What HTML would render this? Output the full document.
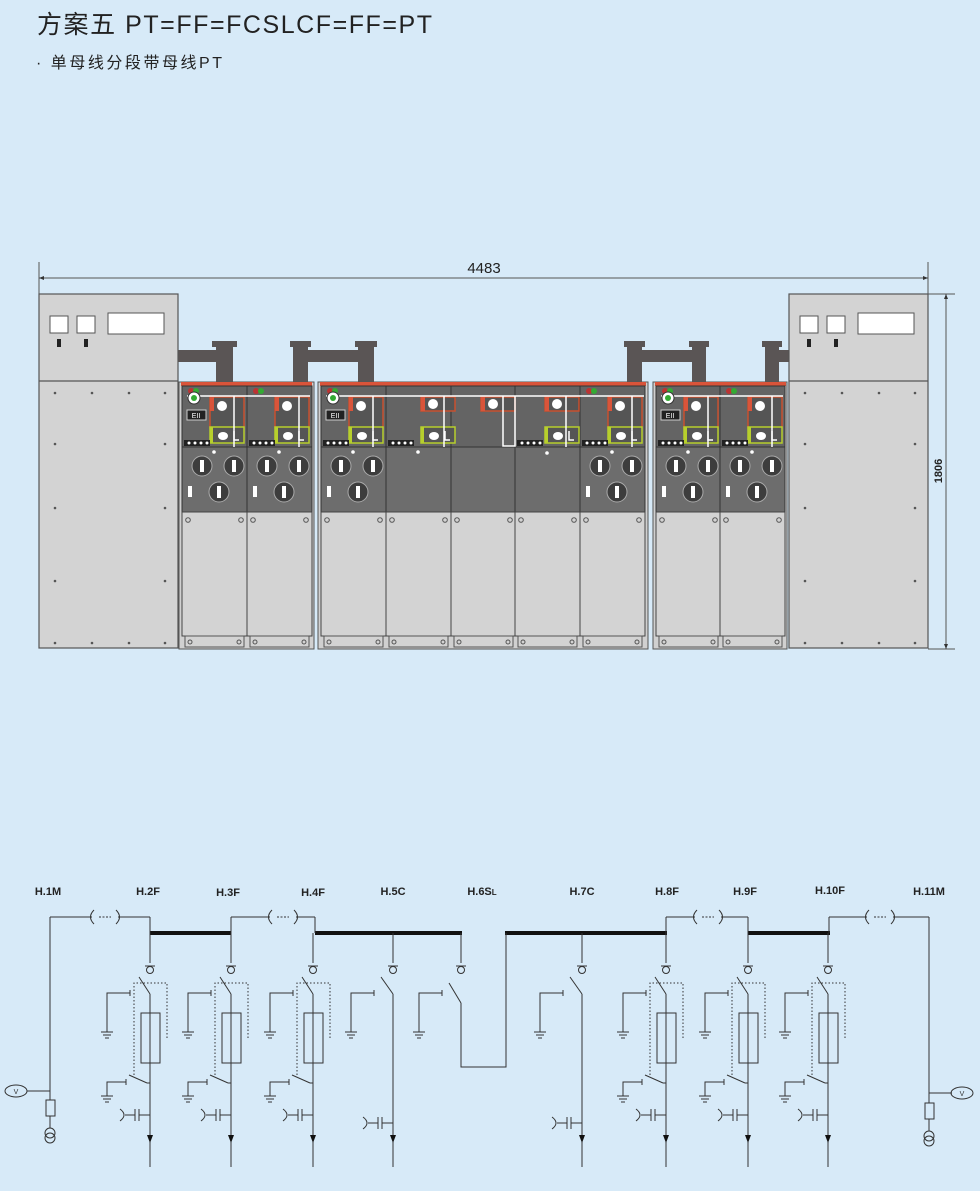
<!DOCTYPE html>
<html><head><meta charset="utf-8"><style>
html,body{margin:0;padding:0;background:#d7eaf8;}
svg{display:block;}
</style></head><body>
<svg width="980" height="1191" viewBox="0 0 980 1191" xmlns="http://www.w3.org/2000/svg" font-family="'Liberation Sans','Noto Sans CJK SC',sans-serif">
<rect width="980" height="1191" fill="#d7eaf8"/>
<text x="37" y="33" font-size="25" fill="#222" textLength="395" lengthAdjust="spacing">方案五 PT=FF=FCSLCF=FF=PT</text>
<text x="36" y="68" font-size="16" fill="#222" textLength="186" lengthAdjust="spacing">· 单母线分段带母线PT</text>

<defs>
  <g id="knob"><circle r="10" fill="#3d3d3d" stroke="#aaa" stroke-width="1"/><rect x="-2" y="-6" width="4" height="12" fill="#fff"/></g>
  <g id="redbox">
    <rect x="0" y="0" width="34" height="31" fill="#555" stroke="#c8502e" stroke-width="1.5"/>
    <rect x="0" y="0" width="4" height="14" fill="#d9543a"/>
    <circle cx="12" cy="9" r="5" fill="#fff"/>
  </g>
  <g id="smallred">
    <rect x="0" y="0" width="34" height="14" fill="#555" stroke="#c8502e" stroke-width="1.5"/>
    <rect x="0" y="0" width="4" height="14" fill="#d9543a"/>
    <circle cx="12" cy="7" r="5" fill="#fff"/>
  </g>
  <g id="ybox">
    <rect x="0" y="0" width="34" height="16" fill="#555" stroke="#b7cf2c" stroke-width="1.5"/>
    <rect x="0" y="0" width="3" height="16" fill="#b7cf2c"/>
    <ellipse cx="13" cy="9" rx="5" ry="4" fill="#fff"/>
    <path d="M24 4 v9 h5" stroke="#fff" fill="none" stroke-width="1.5"/>
  </g>
  <g id="dots"><rect x="0" y="0" width="26" height="6" fill="#222"/><circle cx="5" cy="3" r="1.5" fill="#fff"/><circle cx="11" cy="3" r="1.5" fill="#fff"/><circle cx="17" cy="3" r="1.5" fill="#fff"/><circle cx="23" cy="3" r="1.5" fill="#fff"/></g>
  <g id="panelbase">
    <rect x="0" y="386" width="65" height="61" fill="#646464" stroke="#333" stroke-width="1"/>
    <rect x="0" y="447" width="65" height="65" fill="#6d6d6d" stroke="#333" stroke-width="1"/>
    <rect x="0" y="512" width="65" height="124" fill="#d3d3d3" stroke="#444" stroke-width="1"/>
    <circle cx="6" cy="520" r="2.3" fill="none" stroke="#555"/>
    <circle cx="59" cy="520" r="2.3" fill="none" stroke="#555"/>
    <rect x="3" y="636" width="59" height="11" fill="#d3d3d3" stroke="#555" stroke-width="1"/>
    <circle cx="8" cy="642" r="2" fill="none" stroke="#555"/>
    <circle cx="57" cy="642" r="2" fill="none" stroke="#555"/>
  </g>
  <g id="fpanel">
    <use href="#panelbase"/>
    <use href="#redbox" x="28" y="397"/>
    <use href="#ybox" x="28" y="427"/>
    <line x1="52" y1="396" x2="52" y2="447" stroke="#fff" stroke-width="1.5"/>
    <use href="#dots" x="2" y="440"/>
    <circle cx="32" cy="452" r="1.8" fill="#fff"/>
    <use href="#knob" x="20" y="466"/>
    <use href="#knob" x="52" y="466"/>
    <use href="#knob" x="37" y="492"/>
    <rect x="6" y="486" width="4" height="11" fill="#fff"/>
    <circle cx="9" cy="391" r="3" fill="#b33"/><circle cx="14" cy="391" r="3" fill="#3a3"/>
  </g>
  <g id="ptcab">
    <rect x="0" y="294" width="139" height="354" fill="#d3d3d3" stroke="#555" stroke-width="1.2"/>
    <line x1="0" y1="381" x2="139" y2="381" stroke="#555" stroke-width="1.2"/>
    <rect x="11" y="316" width="18" height="17" fill="#fff" stroke="#555"/>
    <rect x="38" y="316" width="18" height="17" fill="#fff" stroke="#555"/>
    <rect x="69" y="313" width="56" height="21" fill="#fff" stroke="#555"/>
    <rect x="18" y="339" width="4" height="8" fill="#222"/>
    <rect x="45" y="339" width="4" height="8" fill="#222"/>
    <g fill="#555">
      <circle cx="16" cy="393" r="1.3"/><circle cx="53" cy="393" r="1.3"/><circle cx="90" cy="393" r="1.3"/><circle cx="126" cy="393" r="1.3"/>
      <circle cx="16" cy="444" r="1.3"/><circle cx="126" cy="444" r="1.3"/>
      <circle cx="16" cy="508" r="1.3"/><circle cx="126" cy="508" r="1.3"/>
      <circle cx="16" cy="581" r="1.3"/><circle cx="126" cy="581" r="1.3"/>
      <circle cx="16" cy="643" r="1.3"/><circle cx="53" cy="643" r="1.3"/><circle cx="90" cy="643" r="1.3"/><circle cx="126" cy="643" r="1.3"/>
    </g>
  </g>
</defs>

<!-- dimension -->
<g stroke="#555" stroke-width="1" fill="none">
  <line x1="39" y1="262" x2="39" y2="340"/>
  <line x1="928" y1="262" x2="928" y2="294"/>
  <line x1="39" y1="278" x2="928" y2="278"/>
  <line x1="928" y1="294" x2="955" y2="294"/>
  <line x1="928" y1="649" x2="955" y2="649"/>
  <line x1="946" y1="294" x2="946" y2="649"/>
</g>
<path d="M39 278 l5 -2 v4z M928 278 l-5 -2 v4z M946 294 l-2 5 h4z M946 649 l-2 -5 h4z" fill="#333"/>
<text x="484" y="273" font-size="15" text-anchor="middle" fill="#222">4483</text>
<text transform="translate(942,471) rotate(-90)" font-size="11" font-weight="bold" text-anchor="middle" fill="#222">1806</text>

<!-- pipes -->
<g fill="#5a5555">
  <rect x="178" y="350" width="46" height="12"/><rect x="216" y="341" width="17" height="43"/><rect x="212" y="341" width="25" height="6"/>
  <rect x="293" y="341" width="15" height="43"/><rect x="290" y="341" width="21" height="6"/><rect x="300" y="350" width="65" height="12"/><rect x="358" y="341" width="16" height="43"/><rect x="355" y="341" width="22" height="6"/>
  <rect x="627" y="341" width="15" height="43"/><rect x="624" y="341" width="21" height="6"/><rect x="635" y="350" width="65" height="12"/><rect x="692" y="341" width="14" height="43"/><rect x="689" y="341" width="20" height="6"/>
  <rect x="765" y="341" width="14" height="43"/><rect x="762" y="341" width="20" height="6"/><rect x="772" y="350" width="17" height="12"/>
</g>

<use href="#ptcab" x="39"/>
<use href="#ptcab" x="789"/>

<!-- unit frames -->
<g fill="#d0d0d0" stroke="#555" stroke-width="1">
  <rect x="179" y="382" width="135" height="267"/>
  <rect x="318" y="382" width="330" height="267"/>
  <rect x="653" y="382" width="134" height="267"/>
</g>
<g fill="#d9543a">
  <rect x="181" y="382" width="131" height="4"/>
  <rect x="320" y="382" width="326" height="4"/>
  <rect x="655" y="382" width="131" height="4"/>
</g>

<use href="#fpanel" x="182"/>
<use href="#fpanel" x="247"/>
<use href="#fpanel" x="321"/>
<use href="#fpanel" x="580"/>
<use href="#fpanel" x="656"/>
<use href="#fpanel" x="720"/>

<!-- middle panels of unit 2 -->
<g>
  <use href="#panelbase" x="386"/>
  <use href="#panelbase" x="451"/>
  <use href="#panelbase" x="515"/>
  <use href="#smallred" x="421" y="397"/>
  <use href="#ybox" x="421" y="427"/>
  <line x1="444" y1="396" x2="444" y2="447" stroke="#fff" stroke-width="1.5"/>
  <use href="#dots" x="388" y="440"/>
  <circle cx="418" cy="452" r="1.8" fill="#fff"/>
  <use href="#smallred" x="481" y="397"/>
  <path d="M503 396 v50 h12 v-50" stroke="#fff" stroke-width="1.5" fill="none"/>
  <use href="#smallred" x="545" y="397"/>
  <use href="#ybox" x="545" y="427"/>
  <line x1="566" y1="396" x2="566" y2="447" stroke="#fff" stroke-width="1.5"/>
  <use href="#dots" x="517" y="440"/>
  <circle cx="547" cy="453" r="1.8" fill="#fff"/>
</g>
<!-- white bus lines and specials -->
<g stroke="#fff" stroke-width="1.5" fill="none">
  <line x1="187" y1="396" x2="310" y2="396"/>
  <line x1="326" y1="396" x2="644" y2="396"/>
  <line x1="661" y1="396" x2="783" y2="396"/>
</g>
<g>
  <circle cx="194" cy="398" r="6" fill="#fff" stroke="#333"/><circle cx="194" cy="398" r="3" fill="#3a3"/>
  <rect x="187" y="410" width="19" height="10" fill="#222" stroke="#ccc"/><text x="196" y="418" font-size="7" fill="#fff" text-anchor="middle">EII</text>
  <circle cx="333" cy="398" r="6" fill="#fff" stroke="#333"/><circle cx="333" cy="398" r="3" fill="#3a3"/>
  <rect x="326" y="410" width="19" height="10" fill="#222" stroke="#ccc"/><text x="335" y="418" font-size="7" fill="#fff" text-anchor="middle">EII</text>
  <circle cx="668" cy="398" r="6" fill="#fff" stroke="#333"/><circle cx="668" cy="398" r="3" fill="#3a3"/>
  <rect x="661" y="410" width="19" height="10" fill="#222" stroke="#ccc"/><text x="670" y="418" font-size="7" fill="#fff" text-anchor="middle">EII</text>
</g>

<!-- ===== schematic ===== -->
<g font-size="11" font-weight="bold" fill="#222" text-anchor="middle">
  <text x="48" y="895">H.1M</text><text x="148" y="895">H.2F</text><text x="228" y="896">H.3F</text>
  <text x="313" y="896">H.4F</text><text x="393" y="895">H.5C</text><text x="482" y="895">H.6S<tspan font-size="8">L</tspan></text>
  <text x="582" y="895">H.7C</text><text x="667" y="895">H.8F</text><text x="745" y="895">H.9F</text>
  <text x="830" y="894">H.10F</text><text x="929" y="895">H.11M</text>
</g>
<g stroke="#111" stroke-width="4">
  <line x1="150" y1="933" x2="231" y2="933"/><line x1="315" y1="933" x2="462" y2="933"/>
  <line x1="505" y1="933" x2="667" y2="933"/><line x1="748" y1="933" x2="830" y2="933"/>
</g>
<defs>
  <g id="cable" fill="none" stroke="#333" stroke-width="1">
    <path d="M-11 -7 Q-18 0 -11 7"/><path d="M11 -7 Q18 0 11 7"/><line x1="-6" y1="0" x2="6" y2="0" stroke-dasharray="2,1.5"/>
  </g>
  <g id="gnd" stroke="#333" stroke-width="1"><line x1="-6" y1="0" x2="6" y2="0"/><line x1="-4" y1="3" x2="4" y2="3"/><line x1="-2" y1="6" x2="2" y2="6"/></g>
  <g id="bush" stroke="#333" stroke-width="1" fill="none"><line x1="-5" y1="966" x2="5" y2="966"/><circle cx="0" cy="970" r="3.5"/></g>
  <g id="cap" stroke="#333" stroke-width="1" fill="none">
    <path d="M-30 -6 Q-22 0 -30 6"/><line x1="-25" y1="0" x2="-15" y2="0"/><line x1="-15" y1="-6" x2="-15" y2="6"/><line x1="-11" y1="-6" x2="-11" y2="6"/><line x1="-11" y1="0" x2="0" y2="0"/>
  </g>
  <g id="feeder" stroke="#333" stroke-width="1" fill="none">
    <line x1="0" y1="933" x2="0" y2="963"/>
    <use href="#bush"/>
    <line x1="-11" y1="977" x2="0" y2="994"/>
    <line x1="0" y1="994" x2="0" y2="1167"/>
    <path d="M-20 990 v6 M-20 993 h-23 v39"/>
    <use href="#gnd" x="-43" y="1032"/>
    <path d="M17 1038 V983 H-16 V1075" stroke-dasharray="1.5,2"/>
    <rect x="-9" y="1013" width="19" height="50"/>
    <line x1="-21" y1="1075" x2="-3" y2="1083"/>
    <line x1="-3" y1="1083" x2="0" y2="1083"/>
    <path d="M-24 1079 v6 M-24 1082 h-19 v14"/>
    <use href="#gnd" x="-43" y="1096"/>
    <use href="#cap" y="1115"/>
    <path d="M-3 1135 h6 l-3 8z" fill="#111" stroke="none"/>
  </g>
</defs>
<g stroke="#333" stroke-width="1" fill="none">
  <line x1="50" y1="917" x2="92" y2="917"/><line x1="118" y1="917" x2="150" y2="917"/><line x1="150" y1="917" x2="150" y2="933"/>
  <line x1="231" y1="917" x2="270" y2="917"/><line x1="296" y1="917" x2="315" y2="917"/><line x1="231" y1="917" x2="231" y2="933"/><line x1="315" y1="917" x2="315" y2="933"/>
  <line x1="666" y1="917" x2="695" y2="917"/><line x1="721" y1="917" x2="748" y2="917"/><line x1="666" y1="917" x2="666" y2="933"/><line x1="748" y1="917" x2="748" y2="933"/>
  <line x1="829" y1="917" x2="867" y2="917"/><line x1="893" y1="917" x2="929" y2="917"/><line x1="829" y1="917" x2="829" y2="933"/>
</g>
<use href="#cable" x="105" y="917"/><use href="#cable" x="283" y="917"/>
<use href="#cable" x="708" y="917"/><use href="#cable" x="880" y="917"/>

<use href="#feeder" x="150"/><use href="#feeder" x="231"/><use href="#feeder" x="313"/>
<use href="#feeder" x="666"/><use href="#feeder" x="748"/><use href="#feeder" x="828"/>

<g stroke="#333" stroke-width="1" fill="none">
  <line x1="393" y1="933" x2="393" y2="963"/><use href="#bush" x="393"/>
  <line x1="381" y1="977" x2="393" y2="994"/><line x1="393" y1="994" x2="393" y2="1167"/>
  <path d="M374 990 v6 M374 993 h-23 v39"/><use href="#gnd" x="351" y="1032"/>
  <use href="#cap" x="393" y="1123"/>
  <line x1="461" y1="933" x2="461" y2="963"/><use href="#bush" x="461"/>
  <line x1="449" y1="983" x2="461" y2="1003"/>
  <path d="M461 1003 V1067 H506 V933"/>
  <path d="M442 990 v6 M442 993 h-23 v39"/><use href="#gnd" x="419" y="1032"/>
  <line x1="582" y1="933" x2="582" y2="963"/><use href="#bush" x="582"/>
  <line x1="570" y1="977" x2="582" y2="994"/><line x1="582" y1="994" x2="582" y2="1167"/>
  <path d="M563 990 v6 M563 993 h-23 v39"/><use href="#gnd" x="540" y="1032"/>
  <use href="#cap" x="582" y="1123"/>
  <line x1="50" y1="917" x2="50" y2="1100"/>
  <line x1="50" y1="1091" x2="27" y2="1091"/>
  <ellipse cx="16" cy="1091" rx="11" ry="6"/>
  <rect x="46" y="1100" width="9" height="16"/>
  <line x1="50" y1="1116" x2="50" y2="1128"/>
  <circle cx="50" cy="1133" r="5"/><circle cx="50" cy="1138" r="5"/>
  <line x1="929" y1="917" x2="929" y2="1103"/>
  <line x1="929" y1="1093" x2="952" y2="1093"/>
  <ellipse cx="962" cy="1093" rx="11" ry="6"/>
  <rect x="925" y="1103" width="9" height="16"/>
  <line x1="929" y1="1119" x2="929" y2="1131"/>
  <circle cx="929" cy="1136" r="5"/><circle cx="929" cy="1141" r="5"/>
</g>
<path d="M390 1135 h6 l-3 8z M579 1135 h6 l-3 8z" fill="#111"/>
<g font-size="7" fill="#333" text-anchor="middle"><text x="16" y="1094">V</text><text x="962" y="1096">V</text></g>
</svg>
</body></html>
